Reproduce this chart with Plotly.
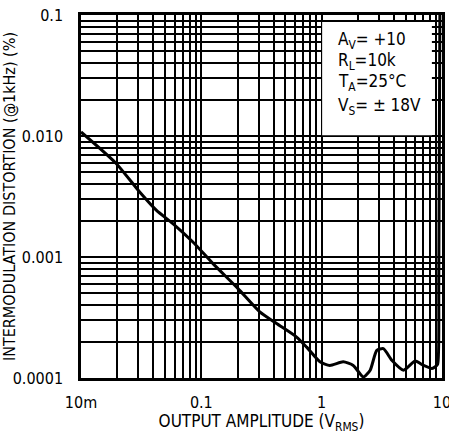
import plotly.graph_objects as go

# Curve data (output amplitude Vrms, IMD %)
amplitude = [0.01, 0.0196, 0.0306, 0.0422, 0.058, 0.0851, 0.125, 0.2018, 0.306, 0.422,
             0.619, 0.75, 0.968, 1.17, 1.51, 1.83, 2.22, 2.53, 2.87, 3.26, 3.83, 4.79,
             5.99, 7.03, 8.25, 8.79, 9.2, 9.4, 9.6]
distortion = [0.0108, 0.00593, 0.00346, 0.00244, 0.00189, 0.00133, 0.000882, 0.000548,
              0.000352, 0.000282, 0.000218, 0.00018, 0.000136, 0.000127, 0.000136,
              0.000127, 0.000102, 0.000116, 0.000169, 0.000175, 0.00014, 0.000116,
              0.000138, 0.000127, 0.00012, 0.000124, 0.00013, 0.0006, 0.1]

# Grid/tick positions and labels
x_ticks = [m * 10.0 ** e for e in (-2, -1, 0) for m in range(1, 10)] + [10]
x_labels = ['10m' if v == 0.01 else '0.1' if abs(v - 0.1) < 1e-12 else '1' if v == 1 else '10' if v == 10 else ''
            for v in x_ticks]
y_ticks = [m * 10.0 ** e for e in (-4, -3, -2) for m in range(1, 10)] + [0.1]
y_major = {1e-4: '0.0001', 1e-3: '0.001', 1e-2: '0.010', 1e-1: '0.1'}
y_labels = [next((t for k, t in y_major.items() if abs(v - k) < 1e-12), '') for v in y_ticks]

conditions = ['A<sub>V</sub>= +10', 'R<sub>L</sub>=10k', 'T<sub>A</sub>=25°C', 'V<sub>S</sub>= ± 18V']

FONT = 'DejaVu Sans Condensed, Liberation Sans Narrow, Roboto, sans-serif'

fig = go.Figure()
fig.add_trace(go.Scatter(x=amplitude, y=distortion, mode='lines',
                         line=dict(color='black', width=3, shape='spline', smoothing=0.6),
                         hoverinfo='skip', showlegend=False))

axis_common = dict(type='log', showgrid=True, gridcolor='black', gridwidth=1.5,
                   showline=True, linecolor='black', linewidth=2.5, mirror=True,
                   ticks='', zeroline=False, automargin=False, ticklabeloverflow='allow',
                   tickfont=dict(family=FONT, size=16, color='black'))

fig.update_xaxes(range=[-2, 1], tickmode='array', tickvals=x_ticks, ticktext=x_labels,
                 title=dict(text='OUTPUT AMPLITUDE (V<sub>RMS</sub>)',
                            font=dict(family=FONT, size=17, color='black'), standoff=5),
                 ticklabelstandoff=8, **axis_common)
fig.update_yaxes(range=[-4, -1], tickmode='array', tickvals=y_ticks, ticktext=y_labels,
                 title=dict(text='INTERMODULATION DISTORTION (@1kHz) (%)',
                            font=dict(family=FONT, size=16, color='black'), standoff=3),
                 ticklabelstandoff=12, **axis_common)

fig.add_shape(type='rect', xref='paper', yref='paper', x0=0.668, x1=0.972, y0=0.669, y1=0.981,
              fillcolor='white', line=dict(width=0), layer='above')

ys = [0.931, 0.871, 0.813, 0.749]
for txt, yy in zip(conditions, ys):
    fig.add_annotation(text=txt, xref='paper', yref='paper', x=0.705, y=yy, xanchor='left',
                       yanchor='middle', showarrow=False,
                       font=dict(family=FONT, size=17, color='black'))

fig.update_layout(width=449, height=434, margin=dict(l=81, r=7, t=15, b=56),
                  paper_bgcolor='white', plot_bgcolor='white')

fig.write_html('out.html', config={'displayModeBar': False},
               post_script="document.body.style.margin='0';")
